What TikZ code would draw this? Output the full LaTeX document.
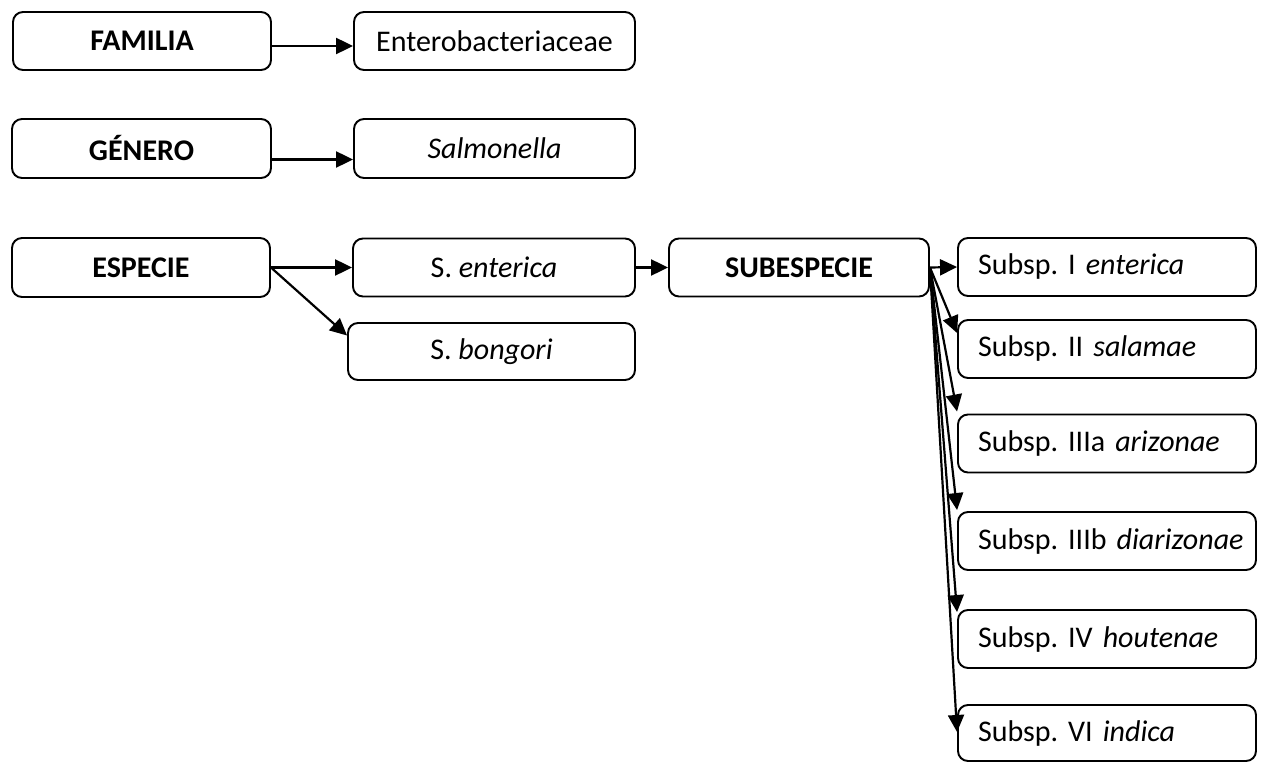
\documentclass[tikz,border=0pt]{standalone}
\usepackage{fontspec}
\setmainfont{Carlito}
\usetikzlibrary{arrows.meta}
\frenchspacing
\begin{document}
\begin{tikzpicture}[x=1pt,y=-1pt,
  box/.style={draw, line width=1.9pt, rounded corners=10pt, inner sep=0pt, minimum height=58pt, font=\fontsize{30}{35}\selectfont},
  subbox/.style={box, text width=276pt, align=left, inner xsep=11pt, inner ysep=0pt},
  arr/.style={line width=2.2pt, -{Triangle[length=17pt,width=16pt]}}]
\useasboundingbox (0,0) rectangle (1264,762);
\node[box, minimum width=258pt] (fam) at (142,41) {\textbf{FAMILIA}};
\node[box, minimum width=281pt] (ent) at (494.5,41) {Enterobacteriaceae};
\node[box, minimum width=259pt, minimum height=59pt] (gen) at (141.5,148.5) {\textbf{GÉNERO}};
\node[box, minimum width=281pt, minimum height=59pt] (sal) at (494.5,148.5) {\textit{Salmonella}};
\node[box, minimum width=258pt, minimum height=59pt] (esp) at (141,267.5) {\textbf{ESPECIE}};
\node[box, minimum width=282pt] (sen) at (494,267.5) {S. \textit{enterica}};
\node[box, minimum width=287pt, minimum height=57pt] (sbo) at (491.5,351.5) {S. \textit{bongori}};
\node[box, minimum width=260pt] (sub) at (799,267.5) {\textbf{SUBESPECIE}};
\node[subbox] (s1) at (1107,267) {\hspace*{9pt}Subsp. I \textit{enterica}};
\node[subbox] (s2) at (1107,349) {\hspace*{9pt}Subsp. II \textit{salamae}};
\node[subbox] (s3) at (1107,443.5) {\hspace*{9pt}Subsp. IIIa \textit{arizonae}};
\node[subbox] (s4) at (1107,541) {\hspace*{9pt}Subsp. IIIb \textit{diarizonae}};
\node[subbox] (s5) at (1107,639) {\hspace*{9pt}Subsp. IV \textit{houtenae}};
\node[subbox, minimum height=56pt] (s6) at (1107,733) {\hspace*{9pt}Subsp. VI \textit{indica}};

\draw[arr] ([yshift=-5pt]fam.east) -- ([yshift=-5pt]ent.west);
\draw[arr] ([yshift=-11pt]gen.east) -- ([yshift=-11pt]sal.west);
\draw[arr] (esp.east) -- (sen.west);
\draw[arr] (esp.east) -- ([yshift=16pt]sbo.west);
\draw[arr] (sen.east) -- (sub.west);
\draw[arr] (sub.east) -- (s1.west);
\draw[arr] (sub.east) -- ([yshift=16pt]s2.west);
\draw[arr] (sub.east) -- ([yshift=2pt]s3.north west);
\draw[arr] (sub.east) -- ([yshift=1pt]s4.north west);
\draw[arr] (sub.east) -- ([yshift=-3pt]s5.north west);
\draw[arr] (sub.east) -- ([yshift=1pt]s6.west);
\end{tikzpicture}
\end{document}
